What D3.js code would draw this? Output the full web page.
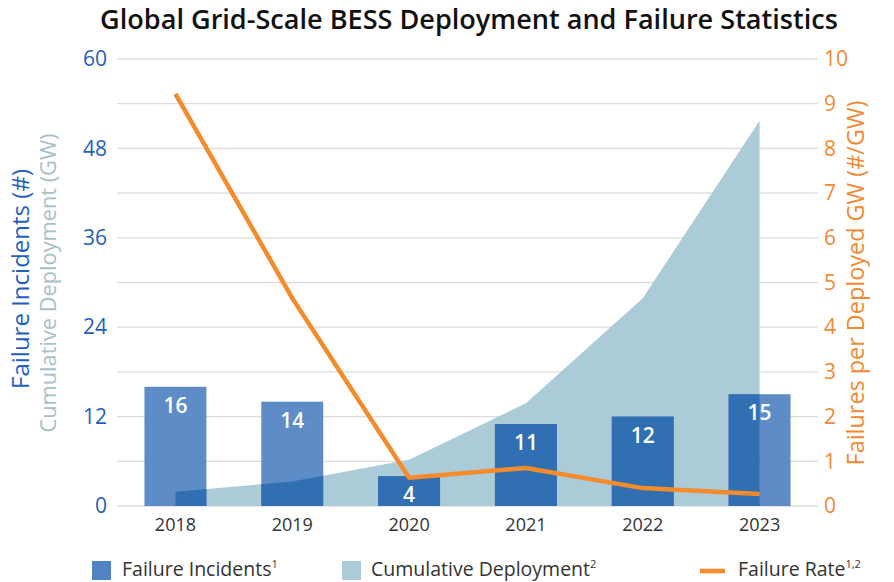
<!DOCTYPE html>
<html>
<head>
<meta charset="utf-8">
<script src="https://cdn.jsdelivr.net/npm/d3@7"></script>
<style>
  body { margin: 0; background: #fff; }
  svg { font-family: "Open Sans", "Lato", sans-serif; }
</style>
</head>
<body>
<svg width="894" height="582"></svg>
<script>
// Données
const years = ["2018", "2019", "2020", "2021", "2022", "2023"];
const incidents = [16, 14, 4, 11, 12, 15];
const deployment = [1.9, 3.3, 6.2, 13.8, 27.9, 51.7];
const failureRate = [9.22, 4.65, 0.63, 0.85, 0.4, 0.27];
const leftTicks = [0, 12, 24, 36, 48, 60];
const rightTicks = [0, 1, 2, 3, 4, 5, 6, 7, 8, 9, 10];

const width = 894, height = 582;
const margin = { top: 59, right: 76, bottom: 76, left: 117 };

const svg = d3.select("svg");

const x = d3.scaleBand()
    .domain(years)
    .range([margin.left, width - margin.right])
    .paddingInner(0.47)
    .paddingOuter(0.235);

const yLeft = d3.scaleLinear().domain([0, 60]).range([height - margin.bottom, margin.top]);
const yRight = d3.scaleLinear().domain([0, 10]).range([height - margin.bottom, margin.top]);

const cx = d => x(d) + x.bandwidth() / 2;

// ajuste la taille de police pour atteindre une largeur donnée
function fit(sel, target) {
    const s0 = parseFloat(sel.style("font-size"));
    const len = sel.node().getComputedTextLength();
    sel.style("font-size", (s0 * target / len).toFixed(2) + "px");
    return sel;
}

// Titre
svg.append("text")
    .attr("x", 469)
    .attr("y", 29)
    .attr("text-anchor", "middle")
    .style("font-size", "22px")
    .style("font-weight", "600")
    .style("fill", "#111")
    .text("Global Grid-Scale BESS Deployment and Failure Statistics")
    .call(fit, 738);

// Lignes de grille (une par unité de l'axe de droite)
svg.append("g")
    .selectAll("line")
    .data(rightTicks)
    .enter().append("line")
    .attr("x1", margin.left)
    .attr("x2", width - margin.right)
    .attr("y1", d => yRight(d))
    .attr("y2", d => yRight(d))
    .style("stroke", "#dcdcdc")
    .style("stroke-width", 1.3);

// Aire du déploiement cumulé
const area = d3.area()
    .x((d, i) => cx(years[i]))
    .y0(yLeft(0))
    .y1(d => yLeft(d));

svg.append("path")
    .datum(deployment)
    .attr("d", area)
    .style("fill", "#abcbd8");

// découpe selon l'aire pour la partie plus foncée des barres
svg.append("clipPath")
    .attr("id", "clipArea")
    .append("path")
    .datum(deployment)
    .attr("d", area);

// Barres des incidents
function drawBars(g, color) {
    g.selectAll("rect")
        .data(incidents)
        .enter().append("rect")
        .attr("x", (d, i) => x(years[i]))
        .attr("width", x.bandwidth())
        .attr("y", d => yLeft(d))
        .attr("height", d => yLeft(0) - yLeft(d))
        .style("fill", color)
        .style("opacity", 0.93);
}
drawBars(svg.append("g"), "#5183c2");
drawBars(svg.append("g").attr("clip-path", "url(#clipArea)"), "#2e6db2");

// Étiquettes des barres
svg.append("g")
    .selectAll("text")
    .data(incidents)
    .enter().append("text")
    .attr("x", (d, i) => cx(years[i]))
    .attr("y", d => yLeft(d) + 26)
    .attr("text-anchor", "middle")
    .style("fill", "#fff")
    .style("font-size", "21px")
    .style("font-weight", "600")
    .text(d => d);

// Ligne du taux de défaillance
const line = d3.line()
    .x((d, i) => cx(years[i]))
    .y(d => yRight(d));

svg.append("path")
    .datum(failureRate)
    .attr("d", line)
    .style("fill", "none")
    .style("stroke", "#f68b2c")
    .style("stroke-width", 4.5)
    .style("stroke-linejoin", "round");

// Axe de gauche
const leftAxis = d3.axisLeft(yLeft).tickValues(leftTicks).tickSize(0).tickPadding(10);
const gL = svg.append("g")
    .attr("transform", `translate(${margin.left},0)`)
    .call(leftAxis);
gL.select(".domain").remove();
gL.selectAll("text")
    .style("font-family", "Open Sans, sans-serif")
    .style("font-size", "21px")
    .style("fill", "#1f5fbf");

// Axe de droite
const rightAxis = d3.axisRight(yRight).tickValues(rightTicks).tickSize(0).tickPadding(6);
const gR = svg.append("g")
    .attr("transform", `translate(${width - margin.right},0)`)
    .call(rightAxis);
gR.select(".domain").remove();
gR.selectAll("text")
    .style("font-family", "Open Sans, sans-serif")
    .style("font-size", "21px")
    .style("fill", "#f28a33");

// Axe des x
const xAxis = d3.axisBottom(x).tickSize(0).tickPadding(12);
const gX = svg.append("g")
    .attr("transform", `translate(0,${height - margin.bottom})`)
    .call(xAxis);
gX.select(".domain").remove();
gX.selectAll("text")
    .style("font-family", "Open Sans, sans-serif")
    .style("font-size", "18px")
    .style("fill", "#333");

// Titres des axes
svg.append("text")
    .attr("transform", `translate(29,279) rotate(-90)`)
    .attr("text-anchor", "middle")
    .style("font-size", "20px")
    .style("fill", "#1f5fbf")
    .text("Failure Incidents (#)")
    .call(fit, 220);

svg.append("text")
    .attr("transform", `translate(56,283) rotate(-90)`)
    .attr("text-anchor", "middle")
    .style("font-size", "20px")
    .style("fill", "#a7c0c9")
    .text("Cumulative Deployment (GW)")
    .call(fit, 299);

svg.append("text")
    .attr("transform", `translate(864,283) rotate(-90)`)
    .attr("text-anchor", "middle")
    .style("font-size", "20px")
    .style("fill", "#f28a33")
    .text("Failures per Deployed GW (#/GW)")
    .call(fit, 365);

// Légende
const legend = svg.append("g").style("font-size", "19.5px").style("fill", "#333");

legend.append("rect").attr("x", 92).attr("y", 561).attr("width", 19).attr("height", 19)
    .style("fill", "#5183c2");
legend.append("rect").attr("x", 342).attr("y", 561).attr("width", 19).attr("height", 19)
    .style("fill", "#abcbd8");
legend.append("line").attr("x1", 700).attr("x2", 725).attr("y1", 571).attr("y2", 571)
    .style("stroke", "#f68b2c").style("stroke-width", 4.5);

const legendLabels = ["Failure Incidents", "Cumulative Deployment", "Failure Rate"];
const legendSups = ["1", "2", "1,2"];
const legendX = [122, 371, 738];

legendLabels.forEach((label, i) => {
    const t = legend.append("text").attr("x", legendX[i]).attr("y", 576);
    t.append("tspan").text(label);
    t.append("tspan").attr("dy", -8).style("font-size", "11px").text(legendSups[i]);
});
</script>
</body>
</html>
